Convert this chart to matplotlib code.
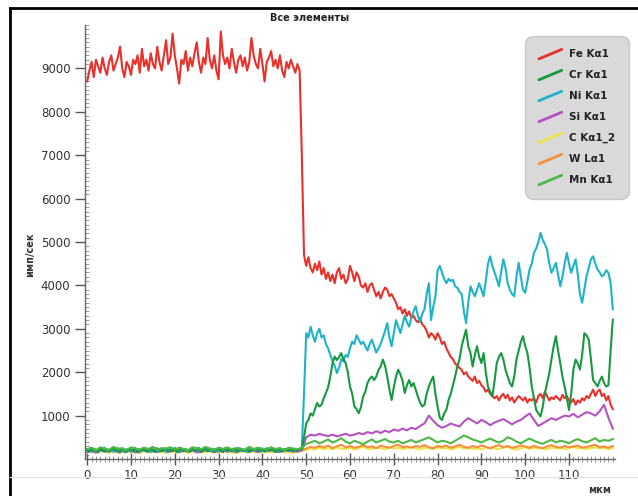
import numpy as np
import matplotlib
matplotlib.use("Agg")
import matplotlib.pyplot as plt
from matplotlib.lines import Line2D
from matplotlib.legend_handler import HandlerBase
from matplotlib.ticker import MultipleLocator

# ---------------- data ----------------
step_fine = 0.5    # um, Fe / Ni / Cr
step_coarse = 1.0  # um, Si / C / W / Mn

fe = [8700, 8950, 9150, 8800, 9200, 9050, 8900, 9250, 9000, 8850, 9150, 9300, 8950, 9100, 9250, 9500,
      9000, 8800, 9150, 9050, 8850, 9200, 9100, 9300, 8900, 9450, 9050, 9200, 8950, 9350, 9100, 9000,
      9500, 9150, 8950, 9300, 9650, 9100, 9250, 9800, 9300, 9000, 8650, 9200, 9100, 9400, 8950, 9250,
      9050, 9350, 9600, 9150, 8900, 9250, 9100, 9700, 9200, 9000, 9300, 8950, 8750, 9850, 9300, 9100,
      9250, 9000, 9450, 9150, 8900, 9200, 9300, 9050, 9250, 8950, 9150, 9700, 9300, 9100, 9000, 9450,
      9100, 8700, 9150, 9250, 9400, 9050, 9200, 9000, 9300, 8950, 8800, 9150, 9000, 9200, 9050, 8900,
      9100, 8950,
      7000, 4700, 4450, 4650, 4400, 4300, 4500, 4350, 4550, 4250, 4400, 4150, 4300, 4100, 4250, 4050,
      4300, 4400, 4150, 4250, 4050, 4150, 4450, 4300, 4100, 4300, 4200, 4000, 3950, 4050, 3850, 4000,
      4050, 3900, 3750, 3850, 3700, 3850, 3950, 3900, 3750, 3800, 3700, 3600, 3450, 3500, 3350, 3450,
      3300, 3400, 3250, 3300, 3200, 3150, 3250, 3100, 3050, 2950, 2800, 2900, 2850, 2750, 2900, 2800,
      2650, 2700, 2550, 2450, 2350, 2300, 2200, 2150, 2100, 2050, 1950, 2000, 1900, 1850, 1800, 1900,
      1750, 1800, 1700, 1650, 1550, 1600, 1500, 1450, 1400, 1450, 1350, 1450, 1500, 1400, 1480, 1350,
      1420, 1300, 1380, 1450, 1400, 1350, 1420, 1300, 1380, 1350, 1400, 1300, 1450, 1500, 1400, 1550,
      1450, 1350, 1420, 1380, 1450, 1400, 1350, 1480, 1400, 1450, 1350, 1300, 1380, 1250, 1350, 1300,
      1400, 1350, 1450, 1400, 1500, 1600, 1450, 1550, 1600, 1450, 1500, 1350, 1450, 1250, 1150]

ni = [180, 220, 160, 240, 200, 150, 230, 190, 260, 170, 210, 240, 160, 200, 250, 180, 220, 150, 230, 200,
      170, 260, 190, 210, 150, 240, 200, 180, 230, 160, 210, 250, 190, 170, 220, 240, 160, 200, 230, 180,
      260, 200, 150, 220, 190, 240, 170, 210, 230, 180, 200, 260, 160, 220, 190, 240, 210, 170, 230, 200,
      180, 250, 160, 210, 240, 190, 220, 170, 200, 260, 180, 230, 210, 160, 240, 200, 190, 220, 250, 170,
      210, 230, 180, 200, 260, 190, 220, 160, 240, 210, 180, 230, 200, 250, 190, 220, 200, 240,
      250, 1500, 2900, 2800, 3050, 2850, 2700, 2900, 3000, 2800, 2850, 2650, 2550, 2400, 2250, 2150,
      1980, 2100, 2300, 2250, 2400, 2350, 2550, 2700, 2650, 2850, 2750, 2650, 2700, 2600, 2500, 2650,
      2750, 2600, 2450, 2550, 2650, 2800, 2950, 3130, 2800, 2600, 2900, 3200, 3050, 2900, 3100, 3300,
      3150, 3050, 3250, 3400, 3520, 3300, 3150, 3350, 3450, 3800, 4050, 3200, 3500, 3750, 4350, 4450,
      4300, 4150, 4050, 4150, 4100, 4130, 3980, 3950, 3850, 3800, 3400, 3130, 3600, 3980, 3850, 3750,
      3900, 4050, 3900, 3750, 4100, 4500, 4670, 4450, 4300, 4150, 3980, 4300, 4600, 4400, 4050, 3900,
      3800, 3750, 4200, 4520, 4200, 3900, 3830, 4100, 4370, 4500, 4750, 4850, 5000, 5210, 5050, 4950,
      4820, 4500, 4290, 4400, 4520, 4250, 3980, 4200, 4500, 4750, 4500, 4290, 4450, 4600, 4250, 3800,
      3600, 3900, 4210, 4400, 4600, 4670, 4500, 4370, 4300, 4210, 4250, 4350, 4290, 4050, 3450]

cr = [210, 170, 240, 190, 220, 160, 250, 200, 180, 230, 170, 210, 260, 190, 220, 150, 240, 200, 170, 230,
      210, 180, 250, 160, 220, 200, 240, 170, 190, 230, 210, 160, 250, 200, 180, 220, 240, 170, 210, 190,
      230, 160, 200, 250, 180, 220, 200, 170, 240, 210, 190, 230, 160, 220, 250, 180, 200, 240, 170, 210,
      230, 190, 160, 250, 200, 220, 180, 240, 210, 170, 230, 200, 190, 250, 160, 220, 210, 240, 180, 200,
      230, 170, 250, 190, 210, 220, 160, 240, 200, 180, 230, 210, 190, 250, 170, 220, 200, 230,
      220, 500, 820, 900, 1050, 1000, 1150, 1290, 1210, 1250, 1400, 1520, 1650, 1900, 2200, 2360,
      2280, 2350, 2440, 2300, 2210, 2000, 1670, 1500, 1210, 1150, 1055, 1200, 1440, 1550, 1750, 1850,
      1900, 1820, 1900, 2050, 2130, 2290, 2150, 1900, 1600, 1360, 1650, 1900, 2060, 1950, 1800, 1520,
      1700, 1820, 1670, 1750, 1600, 1440, 1300, 1210, 1250, 1500, 1670, 1800, 1900, 1500, 1210, 950,
      900, 1050, 1130, 1360, 1500, 1700, 1900, 2130, 2300, 2600, 2800, 2980, 2600, 2440, 2130, 2400,
      2600, 2350, 2210, 2440, 2000, 1670, 1550, 1440, 1800, 2210, 2350, 2440, 2300, 2060, 1900, 1750,
      1670, 1900, 2290, 2500, 2700, 2830, 2600, 2440, 2100, 1670, 1400, 1130, 1050, 980, 1200, 1520,
      1750, 1980, 2300, 2600, 2830, 2500, 2210, 1900, 1670, 1400, 1130, 1500, 2060, 2290, 2200, 2060,
      2400, 2900, 2850, 2750, 2300, 1820, 1750, 1670, 1800, 1900, 1750, 1670, 1700, 2500, 3210]

si = [160, 190, 150, 200, 170, 180, 210, 160, 190, 170, 200, 150, 180, 210, 170, 190, 160, 200, 180, 170,
      210, 160, 190, 180, 200, 150, 170, 210, 190, 160, 180, 200, 170, 190, 160, 210, 180, 170, 200, 160,
      190, 180, 210, 170, 160, 200, 190, 180, 170,
      200, 500, 560, 540, 580, 550, 530, 560, 520, 550, 580, 540, 560, 600, 570, 620, 590, 640, 600, 650,
      620, 680, 650, 700, 660, 720, 690, 760, 820, 1000, 880, 780, 720, 760, 820, 780, 750, 860, 940, 880,
      820, 900, 850, 780, 840, 880, 920, 860, 800, 860, 900, 980, 1050, 900, 760, 820, 880, 940, 900, 950,
      1000, 980, 1040, 960, 1020, 1080, 1050, 1000, 1100, 1250, 950, 700]

c_ka = [150, 170, 140, 180, 160, 150, 175, 145, 165, 180, 150, 160, 140, 175, 165, 150, 180, 155, 145, 170,
        160, 150, 175, 140, 165, 180, 150, 160, 170, 145, 155, 175, 165, 150, 140, 170, 160, 180, 150, 165,
        145, 170, 155, 160, 175, 150, 165, 140, 170,
        180, 210, 240, 220, 260, 230, 250, 220, 270, 240, 230, 260, 220, 250, 280, 240, 230, 260, 250, 220,
        270, 240, 260, 230, 250, 280, 240, 220, 260, 250, 230, 270, 240, 260, 220, 250, 280, 240, 260, 230,
        250, 220, 270, 240, 250, 230, 260, 280, 240, 220, 250, 270, 230, 260, 240, 250, 220, 270, 240, 260,
        230, 250, 280, 240, 260, 230, 250, 270, 240, 260, 230, 250]

w_la = [190, 210, 170, 220, 200, 180, 230, 190, 210, 170, 200, 220, 180, 210, 190, 230, 170, 200, 220, 190,
        180, 210, 230, 170, 200, 190, 220, 180, 210, 200, 170, 230, 190, 210, 180, 220, 200, 170, 210, 190,
        230, 180, 200, 220, 170, 210, 190, 200, 180,
        210, 240, 280, 260, 300, 270, 310, 250, 290, 330, 270, 300, 260, 280, 320, 270, 290, 250, 310, 280,
        260, 300, 330, 270, 290, 260, 300, 280, 320, 270, 250, 300, 280, 310, 260, 290, 330, 280, 260, 300,
        270, 310, 280, 250, 290, 320, 270, 300, 260, 280, 310, 290, 260, 300, 270, 250, 290, 320, 280, 260,
        300, 270, 290, 310, 260, 280, 300, 330, 270, 290, 260, 300]

mn = [230, 260, 200, 270, 240, 210, 280, 230, 250, 200, 270, 240, 220, 260, 230, 280, 210, 250, 240, 270,
      220, 260, 230, 200, 270, 250, 220, 280, 240, 210, 260, 230, 270, 220, 250, 240, 210, 280, 230, 260,
      240, 220, 270, 230, 250, 210, 260, 240, 230,
      250, 350, 380, 420, 360, 400, 450, 380, 420, 480, 400, 360, 420, 380, 340, 400, 450, 380, 420, 460,
      400, 380, 420, 360, 400, 440, 380, 420, 460, 500, 440, 380, 420, 400, 360, 420, 480, 540, 500, 450,
      420, 380, 430, 470, 420, 380, 420, 500, 460, 400, 360, 420, 470, 420, 380, 350, 400, 440, 380, 420,
      400, 360, 420, 460, 410, 380, 430, 480, 400, 440, 420, 460]

series = [
    ("C Kα1_2", c_ka, step_coarse, "#efe24a"),
    ("W Lα1", w_la, step_coarse, "#f5913a"),
    ("Si Kα1", si, step_coarse, "#b552c2"),
    ("Fe Kα1", fe, step_fine, "#e8312b"),
    ("Ni Kα1", ni, step_fine, "#1fb3c9"),
    ("Cr Kα1", cr, step_fine, "#17993f"),
    ("Mn Kα1", mn, step_coarse, "#4fb845"),
]
legend_order = ["Fe Kα1", "Cr Kα1", "Ni Kα1", "Si Kα1", "C Kα1_2", "W Lα1", "Mn Kα1"]

title = "Все элементы"
ylabel = "имп/сек"
xlabel = "мкм"

# ---------------- figure ----------------
W, H = 638, 496
fig = plt.figure(figsize=(W / 100, H / 100), dpi=100)
fig.patch.set_facecolor("white")
ax = fig.add_axes([85 / W, 1 - 459 / H, 530 / W, (459 - 25) / H])
ax.set_facecolor("white")

handles = {}
for name, vals, step, col in series:
    xv = np.arange(len(vals)) * step
    ln, = ax.plot(xv, vals, color=col, lw=1.5, label=name, solid_joinstyle="round")
    handles[name] = ln

ax.set_xlim(-0.5, 120.5)
ax.set_ylim(0, 10000)
ax.xaxis.set_major_locator(MultipleLocator(10))
ax.xaxis.set_minor_locator(MultipleLocator(1))
ax.yaxis.set_major_locator(MultipleLocator(1000))
ax.yaxis.set_minor_locator(MultipleLocator(100))
ax.set_yticks(np.arange(1000, 10000, 1000))
ax.set_xticks(np.arange(0, 111, 10))

for s in ["top", "right"]:
    ax.spines[s].set_visible(False)
for s in ["left", "bottom"]:
    ax.spines[s].set_color("#666666")
    ax.spines[s].set_linewidth(1.0)

ax.tick_params(axis="both", which="major", labelsize=8.5, colors="#555555", labelcolor="#333333", width=1.0)
ax.tick_params(axis="y", which="major", direction="out", length=7)
ax.tick_params(axis="y", which="minor", direction="in", length=3, color="#888888")
ax.tick_params(axis="x", which="major", direction="inout", length=8)
ax.tick_params(axis="x", which="minor", direction="inout", length=4, color="#888888")

fig.text(310 / W, 1 - 18 / H, title, ha="center", va="center", fontsize=7, fontweight="bold", color="#222222")
fig.text(30 / W, 1 - 255 / H, ylabel, ha="center", va="center", rotation=90, fontsize=7,
         fontweight="bold", color="#333333")
fig.text(600 / W, 1 - 490 / H, xlabel, ha="center", va="center", fontsize=7, fontweight="bold", color="#333333")


class DiagHandler(HandlerBase):
    def create_artists(self, legend, orig_handle, xdescent, ydescent, width, height, fontsize, trans):
        x0, y0 = -xdescent, -ydescent
        ln = Line2D([x0, x0 + width], [y0 - 0.1 * height, y0 + 1.0 * height],
                    color=orig_handle.get_color(), lw=2.0, solid_capstyle="round")
        ln.set_transform(trans)
        return [ln]


leg = ax.legend([handles[n] for n in legend_order], legend_order,
                handler_map={Line2D: DiagHandler()},
                loc="upper right", bbox_to_anchor=(1.02, 0.968),
                prop={"weight": "bold", "size": 7.5},
                frameon=True, fancybox=True, framealpha=1.0,
                facecolor="#d9d9d9", edgecolor="#c8c8c8",
                labelspacing=1.05, handlelength=2.2, handleheight=0.9,
                handletextpad=0.7, borderpad=1.0, borderaxespad=0.0)
leg.get_frame().set_boxstyle("round,pad=0.3,rounding_size=0.8")
for t in leg.get_texts():
    t.set_color("#222222")

# outer frame of the screenshot
fig.add_artist(Line2D([10 / W, 10 / W], [0, 1 - 8 / H], transform=fig.transFigure, color="black", lw=2))
fig.add_artist(Line2D([10 / W, 1], [1 - 8 / H, 1 - 8 / H], transform=fig.transFigure, color="black", lw=2))
fig.add_artist(Line2D([10 / W, 1], [1 - 477 / H, 1 - 477 / H], transform=fig.transFigure, color="#e6e6e6", lw=1))

fig.savefig("out.png", dpi=100, facecolor="white")
